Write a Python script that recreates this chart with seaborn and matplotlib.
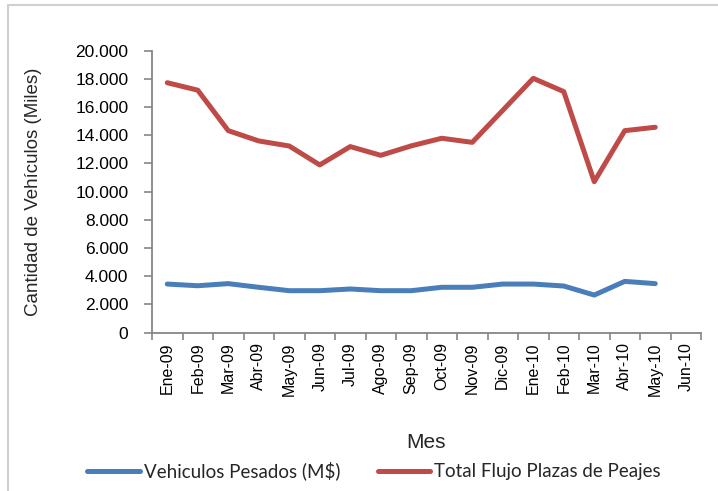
import numpy as np
import pandas as pd
import matplotlib
matplotlib.use("Agg")
import matplotlib.pyplot as plt
import seaborn as sns
from matplotlib.ticker import FuncFormatter, FixedLocator
from matplotlib.patches import Rectangle
from matplotlib.lines import Line2D

meses = ["Ene-09", "Feb-09", "Mar-09", "Abr-09", "May-09", "Jun-09", "Jul-09",
         "Ago-09", "Sep-09", "Oct-09", "Nov-09", "Dic-09", "Ene-10", "Feb-10",
         "Mar-10", "Abr-10", "May-10", "Jun-10"]
pesados = [3450, 3330, 3480, 3220, 2980, 2980, 3100, 2980, 2980, 3220, 3220,
           3450, 3450, 3310, 2670, 3640, 3480, np.nan]
total_flujo = [17730, 17200, 14330, 13600, 13240, 11900, 13200, 12580, 13250,
               13790, 13500, 15770, 18040, 17100, 10710, 14330, 14570, np.nan]
series_names = ["Vehiculos Pesados (M$)", "Total Flujo Plazas de Peajes"]
colors = ["#4A7EBB", "#BE4B48"]

df = pd.DataFrame({
    "idx": list(range(len(meses))) * 2,
    "valor": pesados + total_flujo,
    "serie": [series_names[0]] * len(meses) + [series_names[1]] * len(meses),
}).dropna()

sns.set_style("white")
plt.rcParams["font.family"] = ["Liberation Sans Narrow", "Liberation Sans", "DejaVu Sans"]

fig = plt.figure(figsize=(7.18, 4.91), dpi=100)
ax = fig.add_axes([152/718, 1-332.7/491, (701-152)/718, (332.7-50.7)/491])

sns.lineplot(data=df, x="idx", y="valor", hue="serie", hue_order=series_names,
             palette=colors, linewidth=3.6, ax=ax, legend=False, sort=False)

ax.set_xlim(-0.5, len(meses) - 0.5)
ax.set_ylim(0, 20000)
ax.set_yticks(np.arange(0, 20001, 2000))
ax.yaxis.set_major_formatter(FuncFormatter(lambda v, p: "0" if v == 0 else f"{int(v):,}".replace(",", ".")))
ax.set_xticks(range(len(meses)))
ax.set_xticklabels(meses, rotation=90)
ax.xaxis.set_minor_locator(FixedLocator(np.arange(-0.5, len(meses), 1.0)))

axis_col = "#868686"
for s in ["top", "right"]:
    ax.spines[s].set_visible(False)
for s in ["left", "bottom"]:
    ax.spines[s].set_color(axis_col)
    ax.spines[s].set_linewidth(1.3)

ax.tick_params(axis="y", which="major", direction="out", length=6, width=1.2,
               color=axis_col, labelsize=12.5, pad=11, left=True, labelcolor="#000000")
ax.tick_params(axis="x", which="major", length=0, labelsize=11.5, pad=7, labelcolor="#000000")
ax.tick_params(axis="x", which="minor", direction="out", length=5, width=1.2,
               color=axis_col, bottom=True)

ax.set_xlabel("Mes", fontsize=15)
ax.set_ylabel("Cantidad de Vehículos (Miles)", fontsize=13.5)
ax.yaxis.set_label_coords(-0.2, 0.5)
ax.xaxis.set_label_coords(0.5, (332.7-433)/282)

handles = [Line2D([0], [0], color=c, lw=3.6, solid_capstyle="round") for c in colors]
leg = fig.legend(handles, series_names, loc="center", bbox_to_anchor=(374/718, 1-471/491),
                 ncol=2, frameon=False, handlelength=2.8, handletextpad=0.2,
                 columnspacing=2.0, prop={"family": ["Lato", "DejaVu Sans"], "size": 13.5})

fig.patches.append(Rectangle((8/718, -0.1), 1.2, 1 - 5/491 + 0.1, transform=fig.transFigure,
                             fill=False, edgecolor="#D0D0D0", linewidth=1.5))

fig.savefig("out.png", dpi=100, facecolor="white")
